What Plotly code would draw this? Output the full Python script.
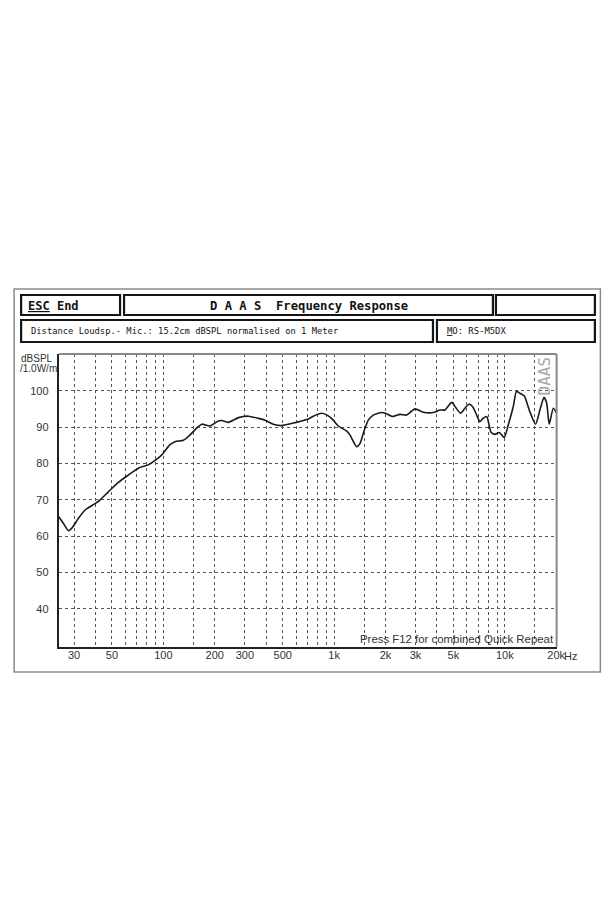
import plotly.graph_objects as go

# ---- data ----
freq_hz = [24.3, 26.0, 27.8, 29.1, 31.8, 34.8, 40, 42.6, 47.6, 54.5, 62.4, 71.4, 81.7, 87.4,
           97.6, 109, 117, 131, 143, 160, 168, 188, 210, 220, 240, 275, 315, 360, 394, 440,
           490, 600, 706, 755, 846, 925, 989, 1059, 1186, 1240, 1313, 1356, 1419, 1483, 1586,
           1697, 1900, 2000, 2204, 2432, 2660, 2977, 3328, 3810, 4170, 4460, 4880, 5170, 5510,
           5840, 6160, 6480, 6895, 7150, 7450, 7830, 8300, 8750, 9270, 9920, 10470, 11200,
           11720, 12250, 12980, 13400, 14020, 15140, 16060, 16950, 17580, 18200, 19230, 20130]
spl_db = [65.4, 63.5, 61.5, 62.2, 64.9, 67.2, 69.0, 70.0, 72.2, 74.8, 76.8, 78.7, 79.6, 80.5,
          82.3, 85.1, 86.0, 86.4, 87.8, 90.1, 90.8, 90.3, 91.7, 91.8, 91.3, 92.6, 93.0, 92.4, 91.9, 90.8,
          90.4, 91.3, 92.2, 93.0, 93.8, 93.1, 91.9, 90.3, 88.9, 87.8, 85.5, 84.6, 85.5, 88.3, 91.9,
          93.3, 94.0, 93.8, 92.9, 93.5, 93.3, 95.0, 94.1, 94.0, 94.7, 94.7, 96.8, 95.3, 93.8,
          95.2, 96.3, 95.6, 92.9, 91.5, 92.4, 92.9, 88.6, 88.0, 88.5, 87.1, 90.6, 95.6,
          99.9, 99.3, 98.6, 97.0, 94.2, 90.8, 94.7, 98.2, 96.6, 90.8, 95.2, 93.8]

x_grid = [30, 40, 50, 60, 70, 80, 90, 100, 150, 200, 300, 400, 500, 600, 700, 800, 900, 1000,
          1500, 2000, 3000, 4000, 5000, 6000, 7000, 8000, 9000, 10000, 15000, 20000]
x_label_vals = [30, 50, 100, 200, 300, 500, 1000, 2000, 3000, 5000, 10000, 20000]
x_label_text = ["30", "50", "100", "200", "300", "500", "1k", "2k", "3k", "5k", "10k", "20k"]
y_ticks = [40, 50, 60, 70, 80, 90, 100]
y_tick_text = ["40", "50", "60", "70", "80", "90", "100"]

OFF = 8          # page body margin
SX = 0.9855      # observed horizontal scale of the captured page
W, H = 605, 880


def px(x):
    return (x / SX - OFF) / W


def py(y):
    return 1 - (y - OFF) / H


lab = dict(zip(x_label_vals, x_label_text))
x_text = [lab.get(v, "") for v in x_grid]

fig = go.Figure()
fig.add_trace(go.Scatter(x=freq_hz, y=spl_db, mode="lines",
                         line=dict(color="#1a1a1a", width=1.6, shape="spline", smoothing=0.6),
                         hoverinfo="skip", showlegend=False))

PL, PR, PT, PB = 58.7, 556.7, 354, 646.7

fig.update_layout(
    width=W, height=H, margin=dict(l=0, r=0, t=0, b=0), autosize=False,
    paper_bgcolor="white", plot_bgcolor="white", showlegend=False,
    xaxis=dict(type="log", range=[1.3875, 4.3033], domain=[px(PL), px(PR)],
               tickmode="array", tickvals=x_grid, ticktext=x_text,
               showgrid=True, gridcolor="#555", griddash="dot", gridwidth=1,
               showline=True, linecolor="#222", linewidth=2, zeroline=False,
               ticks="", ticklabelstandoff=-3,
               tickfont=dict(family="Liberation Sans, Arial", size=11, color="#333")),
    yaxis=dict(range=[29.6, 110.1], domain=[py(PB), py(PT)],
               tickmode="array", tickvals=y_ticks, ticktext=y_tick_text,
               showgrid=True, gridcolor="#555", griddash="dot", gridwidth=1,
               showline=True, linecolor="#222", linewidth=2, zeroline=False,
               ticks="", ticklabelstandoff=6,
               tickfont=dict(family="Liberation Sans, Arial", size=11, color="#333")),
)

shapes = []
# outer frame
shapes.append(dict(type="rect", xref="paper", yref="paper", x0=px(14), x1=px(600.5),
                   y0=py(672), y1=py(289), line=dict(color="#8a8a8a", width=1.5)))
# top and right border of the plot
shapes.append(dict(type="line", xref="paper", yref="paper", x0=px(PL), x1=px(PR),
                   y0=py(PT), y1=py(PT), line=dict(color="#888", width=2)))
shapes.append(dict(type="line", xref="paper", yref="paper", x0=px(PR), x1=px(PR),
                   y0=py(PT), y1=py(PB), line=dict(color="#888", width=2)))
# header boxes
boxes = [(21, 120, 295, 315), (124, 493, 295, 315), (496, 595, 295, 315),
         (21, 433, 320, 342), (437, 595, 320, 342)]
for x0, x1, y0, y1 in boxes:
    shapes.append(dict(type="rect", xref="paper", yref="paper", x0=px(x0), x1=px(x1),
                       y0=py(y1), y1=py(y0), line=dict(color="#151515", width=2.2)))
fig.update_layout(shapes=shapes)

mono = "DejaVu Sans Mono, Liberation Mono, monospace"
ann = []
ann.append(dict(text="<b><u>ESC</u> End</b>", x=px(26), y=py(305.5), xanchor="left", yanchor="middle",
                font=dict(family=mono, size=12, color="#111")))
ann.append(dict(text="<b>D A A S  Frequency Response</b>", x=px(308.5), y=py(305.5),
                xanchor="center", yanchor="middle", font=dict(family=mono, size=12.2, color="#111")))
ann.append(dict(text="Distance Loudsp.- Mic.: 15.2cm dBSPL normalised on 1 Meter", x=px(29), y=py(331),
                xanchor="left", yanchor="middle", font=dict(family=mono, size=8.8, color="#111")))
ann.append(dict(text="<u>M</u>O: RS-M5DX", x=px(445), y=py(331), xanchor="left", yanchor="middle",
                font=dict(family=mono, size=8.9, color="#111")))
ann.append(dict(text="dBSPL", x=px(37), y=py(358.5), xanchor="center", yanchor="middle",
                font=dict(family="Liberation Sans, Arial", size=10, color="#333")))
ann.append(dict(text="/1.0W/m", x=px(38), y=py(368.5), xanchor="center", yanchor="middle",
                font=dict(family="Liberation Sans, Arial", size=10, color="#333")))
ann.append(dict(text="DAAS", x=px(545), y=py(375.5), xanchor="center", yanchor="middle", textangle=-90,
                font=dict(family=mono, size=16, color="#a8a8a8")))
ann.append(dict(text="Press F12 for combined Quick Repeat", x=px(556), y=py(647), xanchor="right",
                yanchor="bottom", font=dict(family="Liberation Sans, Arial", size=11.4, color="#333")))
ann.append(dict(text="Hz", x=px(562.5), y=py(655.5), xanchor="left", yanchor="middle",
                font=dict(family="Liberation Sans, Arial", size=11, color="#333")))
for a in ann:
    a.update(xref="paper", yref="paper", showarrow=False)
fig.update_layout(annotations=ann)

fig.write_html("out.html", config={"responsive": False})
